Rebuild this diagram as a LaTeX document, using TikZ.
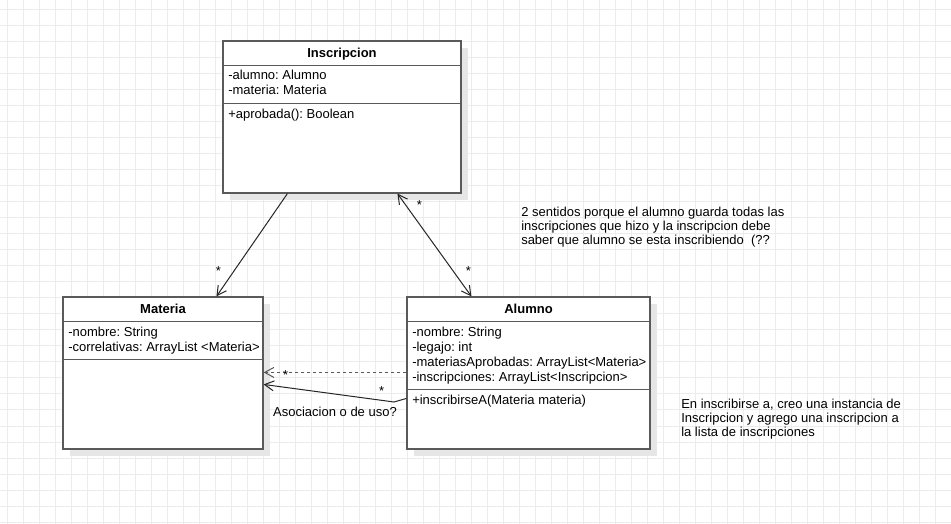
\documentclass[tikz,border=0pt]{standalone}
\usepackage{fontspec}
\setmainfont{Liberation Sans}
\usetikzlibrary{arrows.meta, calc, shadows}
\definecolor{gridgray}{RGB}{236,236,236}
\definecolor{shadowgray}{RGB}{230,230,230}
\definecolor{boxline}{RGB}{90,90,90}
\frenchspacing

\begin{document}
\begin{tikzpicture}[x=0.75pt, y=-0.75pt, >={Straight Barb[length=7pt,width=7.5pt]},
   every node/.style={font=\fontsize{9.75pt}{11.25pt}\selectfont, inner sep=0pt},
   umlclass/.style={draw=boxline, line width=0.85pt, fill=white, rectangle, minimum height=114pt,
      drop shadow={shadow xshift=5.25pt, shadow yshift=-5.25pt, fill=shadowgray, opacity=1}},
   divider/.style={draw=boxline, line width=0.85pt},
   title/.style={font=\fontsize{9.75pt}{11.25pt}\selectfont\bfseries, anchor=base},
   attrs/.style={align=left, anchor=north west},
   note/.style={align=left, anchor=north west, font=\fontsize{9.75pt}{10.5pt}\selectfont},
   mult/.style={anchor=base},
   link/.style={line width=0.75pt, black!85}]

   % background grid
   \fill[white] (0,0) rectangle (951,524);
   \useasboundingbox (0,0) rectangle (951,524);
   \foreach \i in {0,...,59} \draw[gridgray, line width=0.75pt] (7.3+16*\i,0) -- (7.3+16*\i,524);
   \foreach \i in {0,...,32} \draw[gridgray, line width=0.75pt] (0,10+16*\i) -- (951,10+16*\i);

   % classes
   \node[umlclass, minimum width=178.5pt] (insc) at (342,117) {};
   \node[umlclass, minimum width=150pt] (mat) at (163,373) {};
   \node[umlclass, minimum width=182.25pt] (alu) at (528.5,373) {};

   \foreach \n/\d in {insc/25, insc/63, mat/25, mat/63, alu/25, alu/93}
      \draw[divider] ($(\n.north west)+(0,\d)$) -- ($(\n.north east)+(0,\d)$);

   \node[title] (insctitle) at (342,57.6) {Inscripcion};
   \node[attrs] (inscattr) at (228,70.2) {-alumno: Alumno\\-materia: Materia};
   \node[attrs, anchor=base west] (inscops) at (228,118.6) {+aprobada(): Boolean};

   \node[title] (mattitle) at (163,313.6) {Materia};
   \node[attrs] (matattr) at (68,327.3) {-nombre: String\\-correlativas: ArrayList <Materia>};

   \node[title] (alutitle) at (528.5,313.6) {Alumno};
   \node[attrs] (aluattr) at (412,327.3) {-nombre: String\\-legajo: int\\-materiasAprobadas: ArrayList<Materia>\\-inscripciones: ArrayList<Inscripcion>};
   \node[attrs, anchor=base west] (aluops) at (412,404.6) {+inscribirseA(Materia materia)};

   % notes
   \node[note] (sentidos) at (521,207.3) {2 sentidos porque el alumno guarda todas las\\inscripciones que hizo y la inscripcion debe\\saber que alumno se esta inscribiendo\ \ (??};
   \node[note] (instancia) at (681,399.3) {En inscribirse a, creo una instancia de\\Inscripcion y agrego una inscripcion a\\la lista de inscripciones};

   % associations
   \coordinate (bend) at (394,402);
   \draw[link, ->] ($(insc.south west)+(65,0)$) -- ($(mat.north west)+(154,0)$);
   \draw[link, <->] ($(insc.south west)+(175,0)$) -- ($(alu.north west)+(65,0)$);
   \draw[link, ->, black!65, dash pattern=on 2.25pt off 2.25pt] ($(alu.north west)+(0,76)$) -- ($(mat.north east)+(0,76)$);
   \draw[link, ->] ($(alu.north west)+(0,102)$) -- (bend) -- ($(mat.north east)+(0,88)$);

   \node[mult] (m1) at (218.3,275.9) {*};
   \node[mult] (m2) at (419.3,209.3) {*};
   \node[mult] (m3) at (468.3,275.9) {*};
   \node[mult] (m4) at (285.7,379.9) {*};
   \node[mult] (m5) at (381.7,395.9) {*};
   \node[anchor=base] (asoc) at (335,416.6) {Asociacion o de uso?};
\end{tikzpicture}
\end{document}
